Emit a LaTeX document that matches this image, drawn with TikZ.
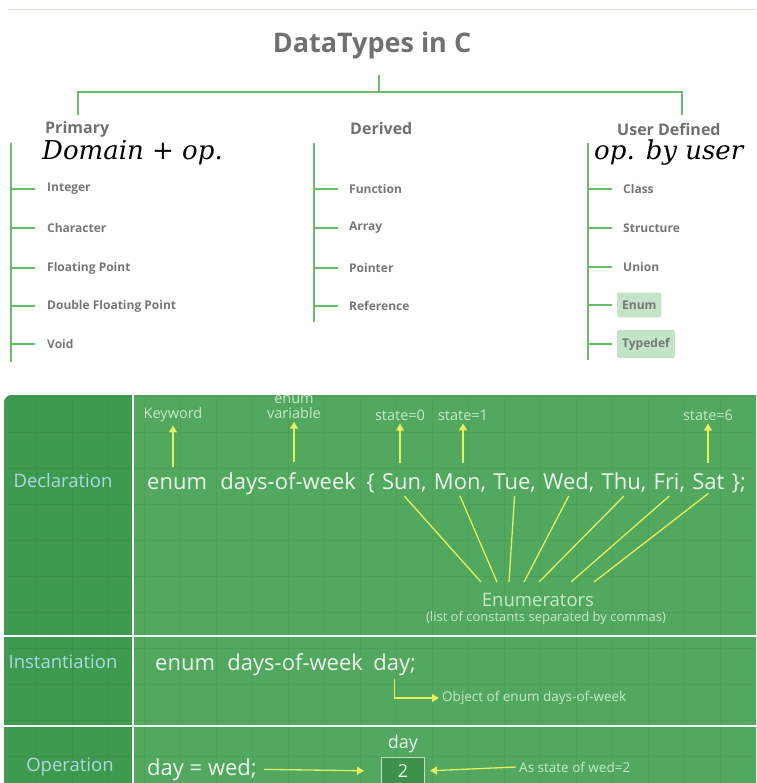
\documentclass[tikz,border=0pt]{standalone}
\usepackage{fontspec}
\setmainfont{Open Sans}
\newfontfamily\handfont{DejaVu Serif}
\usetikzlibrary{positioning,arrows.meta}

\definecolor{treegreen}{RGB}{108,186,108}
\definecolor{rulegreen}{RGB}{205,228,205}
\definecolor{titlegrey}{RGB}{112,112,112}
\definecolor{itemgrey}{RGB}{118,118,118}
\definecolor{hilite}{RGB}{196,228,200}
\definecolor{darkpanel}{RGB}{62,154,78}
\definecolor{lightpanel}{RGB}{82,168,95}
\definecolor{labelblue}{RGB}{172,218,226}
\definecolor{codewhite}{RGB}{236,246,236}
\definecolor{hintgreen}{RGB}{200,234,200}
\definecolor{yellowline}{RGB}{228,240,96}
\definecolor{boxline}{RGB}{190,225,190}
\definecolor{boxfill}{RGB}{62,145,74}

\tikzset{
  branch/.style={draw=treegreen, line width=1.8pt},
  title/.style={font=\fontsize{27}{30}\selectfont\bfseries, text=titlegrey},
  group/.style={anchor=west, inner sep=0pt, font=\fontsize{16}{19}\selectfont\bfseries, text=titlegrey},
  member/.style={anchor=west, inner sep=0pt, font=\fontsize{12}{14}\selectfont\bfseries, text=itemgrey},
  marked/.style={member, fill=hilite, inner xsep=5pt, inner ysep=8pt, rounded corners=1.5pt},
  note/.style={anchor=west, inner sep=0pt, font=\handfont\itshape\fontsize{26}{28}\selectfont, text=black},
  rowlabel/.style={font=\fontsize{18.5}{21}\selectfont, text=labelblue},
  code/.style={inner xsep=0pt, inner ysep=4pt, font=\fontsize{22}{26}\selectfont, text=codewhite},
  hint/.style={inner sep=3pt, font=\fontsize{14.5}{15}\selectfont, text=hintgreen, align=center},
  remark/.style={anchor=west, inner sep=3pt, font=\fontsize{13.5}{15}\selectfont, text=hintgreen},
  pointer/.style={draw=yellowline, line width=1.3pt, -{Triangle[width=8pt,length=7pt]}},
  ray/.style={draw=yellowline, line width=1.3pt},
  divider/.style={draw=white, line width=2pt},
  gridline/.style={draw=black, opacity=0.05, line width=0.8pt},
}

\begin{document}
\begin{tikzpicture}[x=1pt,y=-1pt]
  \useasboundingbox (0,0) rectangle (756,783);
  \draw[rulegreen, line width=0.8pt] (8,9) -- (756,9);

  % tree of data types
  \node[title] (dt) at (372,45) {DataTypes in C};
  \coordinate (stem) at (379,75);
  \coordinate (hub) at (379,92);
  \coordinate (pdrop) at (78,115);
  \coordinate (udrop) at (682,115);
  \draw[branch] (stem) -- (hub);
  \draw[branch] (pdrop) -- (pdrop |- hub) -- (udrop |- hub) -- (udrop);

  \node[group] (prim) at (45,129) {Primary};
  \node[group] (deri) at (350,129) {Derived};
  \node[group] (user) at (617,129) {User Defined};
  \node[note] (pnote) at (42,153) {Domain + op.};
  \node[note] (unote) at (594,153) {op. by user};

  \coordinate (ptop) at (11,143);
  \coordinate (pend) at (11,362);
  \coordinate (dtop) at (314,143);
  \coordinate (dend) at (314,322);
  \coordinate (utop) at (588,143);
  \coordinate (uend) at (588,360);
  \draw[branch] (ptop) -- (pend);
  \draw[branch] (dtop) -- (dend);
  \draw[branch] (utop) -- (uend);

  \node[member] (int) at (47,189) {Integer};
  \node[member] (chr) at (47,228) {Character};
  \node[member] (flt) at (47,268) {Floating Point};
  \node[member] (dbl) at (47,306) {Double Floating Point};
  \node[member] (voi) at (47,344) {Void};
  \draw[branch] (int.west -| ptop) -- ++(24,0);
  \draw[branch] (chr.west -| ptop) -- ++(24,0);
  \draw[branch] (flt.west -| ptop) -- ++(24,0);
  \draw[branch] (dbl.west -| ptop) -- ++(24,0);
  \draw[branch] (voi.west -| ptop) -- ++(24,0);

  \node[member] (fun) at (349,189) {Function};
  \node[member] (arr) at (349,228) {Array};
  \node[member] (ptr) at (349,268) {Pointer};
  \node[member] (ref) at (349,306) {Reference};
  \draw[branch] (fun.west -| dtop) -- ++(24,0);
  \draw[branch] (arr.west -| dtop) -- ++(24,0);
  \draw[branch] (ptr.west -| dtop) -- ++(24,0);
  \draw[branch] (ref.west -| dtop) -- ++(24,0);

  \node[member] (cls) at (623,189) {Class};
  \node[member] (str) at (623,228) {Structure};
  \node[member] (uni) at (623,267) {Union};
  \node[marked] (enm) at (617,305) {Enum};
  \node[marked] (tyd) at (617,344) {Typedef};
  \draw[branch] (cls.west -| utop) -- ++(24,0);
  \draw[branch] (str.west -| utop) -- ++(24,0);
  \draw[branch] (uni.west -| utop) -- ++(24,0);
  \draw[branch] (enm.west -| utop) -- ++(24,0);
  \draw[branch] (tyd.west -| utop) -- ++(24,0);

  % enum panel
  \fill[lightpanel] (756,783) -- (756,395) [rounded corners=8pt] -- (4,395) [sharp corners] -- (4,783) -- cycle;
  \fill[darkpanel] (133,783) -- (133,395) [rounded corners=8pt] -- (4,395) [sharp corners] -- (4,783) -- cycle;
  \draw[gridline, step=36pt] (4,395) grid (756,783);
  \draw[divider] (133,395) -- (133,783);
  \draw[divider] (4,636) -- (756,636);
  \draw[divider] (4,726) -- (756,726);

  \node[rowlabel] (decl) at (63,481) {Declaration};
  \node[rowlabel] (inst) at (63,662) {Instantiation};
  \node[rowlabel] (oper) at (70,767) {Operation};

  \node[code, anchor=base west] (kw) at (147,489) {enum};
  \node[code, base right=13pt of kw] (var) {days-of-week};
  \node[code, base right=10pt of var] (brace) {\{};
  \node[code, base right=7pt of brace] (sun) {Sun,};
  \node[code, base right=7pt of sun] (mon) {Mon,};
  \node[code, base right=7pt of mon] (tue) {Tue,};
  \node[code, base right=7pt of tue] (wed) {Wed,};
  \node[code, base right=7pt of wed] (thu) {Thu,};
  \node[code, base right=7pt of thu] (fri) {Fri,};
  \node[code, base right=7pt of fri] (sat) {Sat};
  \node[code, base right=7pt of sat] (shut) {\};};

  \node[hint] (keyw) at (173,415) {Keyword};
  \node[hint] (evar) at (294,407) {enum\\variable};
  \node[hint] (st0) at (400,415) {state=0};
  \node[hint] (st1) at (463,415) {state=1};
  \node[hint] (st6) at (708,415) {state=6};
  \draw[pointer, shorten <=6pt] (kw.north -| keyw.south) -- (keyw.south);
  \draw[pointer, shorten <=6pt] (var.north -| evar.south) -- (evar.south);
  \draw[pointer, shorten <=6pt] (sun.north -| st0.south) -- (st0.south);
  \draw[pointer, shorten <=6pt] (mon.north -| st1.south) -- (st1.south);
  \draw[pointer, shorten <=6pt] (sat.north -| st6.south) -- (st6.south);

  \node[font=\fontsize{18.5}{21}\selectfont, text=hintgreen] (enums) at (538,600) {Enumerators};
  \node[font=\fontsize{13}{15}\selectfont, text=hintgreen] (enumsub) at (546,618) {(list of constants separated by commas)};
  \coordinate (e1) at (481,582);
  \coordinate (e2) at (497,582);
  \coordinate (e3) at (509,582);
  \coordinate (e4) at (524,582);
  \coordinate (e5) at (539,582);
  \coordinate (e6) at (571,582);
  \coordinate (e7) at (594,582);
  \draw[ray] (sun.south) -- (e1);
  \draw[ray] (mon.south) -- (e2);
  \draw[ray] (tue.south) -- (e3);
  \draw[ray] (wed.south) -- (e4);
  \draw[ray] (thu.south) -- (e5);
  \draw[ray] (fri.south) -- (e6);
  \draw[ray] (sat.south) -- (e7);

  \node[code, anchor=base west] (ienum) at (155,670) {enum};
  \node[code, base right=12pt of ienum] (ivar) {days-of-week};
  \node[code, base right=10pt of ivar] (iday) {day;};
  \node[remark] (obj) at (439,698) {Object of enum days-of-week};
  \draw[pointer] (iday.south) |- (obj.west);

  \node[code, anchor=base west] (assign) at (147,775) {day = wed;};
  \node[draw=boxline, fill=boxfill, line width=1pt, minimum width=43pt, minimum height=27pt,
        font=\fontsize{18}{20}\selectfont, text=codewhite] (val) at (403,771) {2};
  \node[code, font=\fontsize{18}{20}\selectfont, above=0pt of val] (valname) {day};
  \node[remark] (wedlab) at (516,767) {As state of wed=2};
  \draw[pointer, shorten <=7pt, shorten >=17pt] (assign.east) -- (val.west);
  \draw[pointer, shorten >=5pt] (wedlab.west) -- (val.east);
\end{tikzpicture}
\end{document}
